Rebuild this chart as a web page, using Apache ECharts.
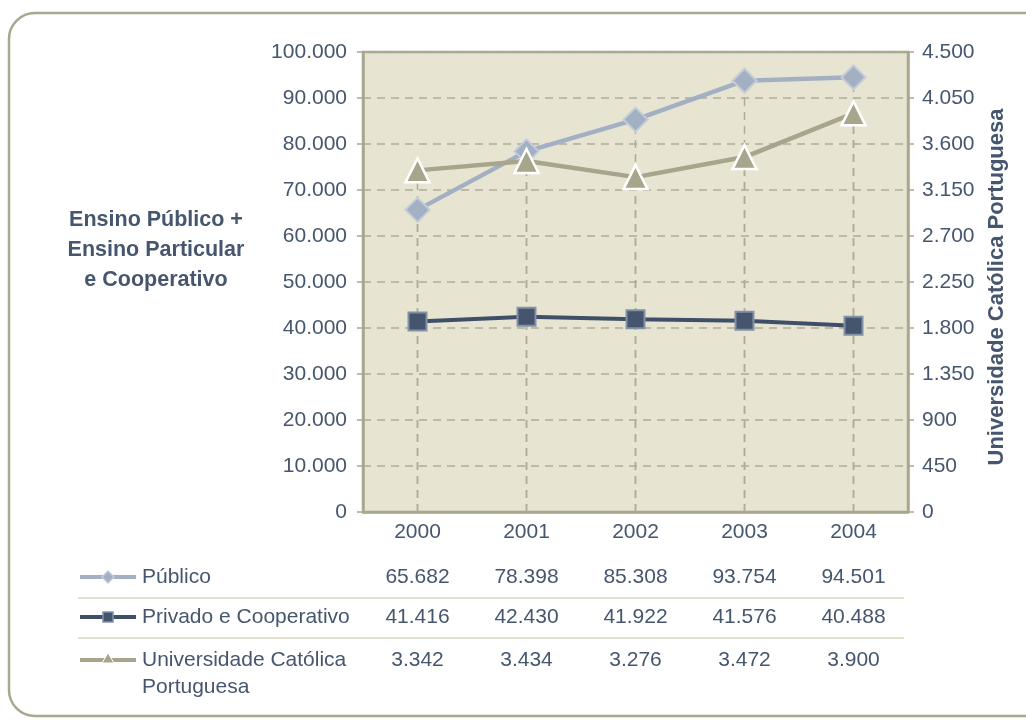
<!DOCTYPE html>
<html>
<head>
<meta charset="utf-8">
<script src="https://cdn.jsdelivr.net/npm/echarts@6/dist/echarts.min.js"></script>
<style>html,body{margin:0;padding:0;background:#fff}#c{width:1026px;height:720px}</style>
</head>
<body>
<div id="c"></div>
<script>
const categories = ['2000', '2001', '2002', '2003', '2004'];
const publico = [65682, 78398, 85308, 93754, 94501];
const privado = [41416, 42430, 41922, 41576, 40488];
const ucp = [3342, 3434, 3276, 3472, 3900];
const seriesNames = ['Público', 'Privado e Cooperativo', 'Universidade Católica Portuguesa'];
const leftAxisName = 'Ensino Público +\nEnsino Particular\ne Cooperativo';
const rightAxisName = 'Universidade Católica Portuguesa';
const legendLabels = ['Público', 'Privado e Cooperativo', 'Universidade Católica\nPortuguesa'];

const FONT = "'Liberation Sans', Arial, sans-serif";
const FS = 21;
const TXT = '#46566e';
const OLIVE = '#a9a78f';
const GRIDC = '#aeac96';
const C_PUB = '#a3b0c3';
const C_PRI = '#3f4f67';
const C_UCP = '#a7a58b';

function fmt(n) { return String(n).replace(/\B(?=(\d{3})+(?!\d))/g, '.'); }

const chart = echarts.init(document.getElementById('c'), null, { renderer: 'canvas' });

function dropRender(params, api) {
  const x = api.value(0), v = api.value(1);
  const top = api.coord([x, v]);
  const bot = api.coord([x, 0]);
  return {
    type: 'line',
    shape: { x1: bot[0], y1: bot[1], x2: top[0], y2: top[1] },
    style: { stroke: GRIDC, lineWidth: 1.5, lineDash: [8, 6] }
  };
}

function tableAxis(values, offset) {
  return {
    type: 'category', data: categories, position: 'bottom', offset: offset,
    gridIndex: 0, boundaryGap: true,
    axisLine: { show: false }, axisTick: { show: false }, splitLine: { show: false },
    axisLabel: { margin: 0, fontSize: FS, color: TXT, fontFamily: FONT, lineHeight: 20,
      formatter: (val, idx) => fmt(values[idx]) }
  };
}

const legendY = [577, 617, 660];
const legendGraphics = [];
legendGraphics.push({ type: 'rect', z: -10, shape: { x: 9, y: 13, width: 1100, height: 703, r: 26 },
  style: { fill: '#fff', stroke: OLIVE, lineWidth: 2.5 } });
[598, 638].forEach(y => legendGraphics.push({ type: 'line', shape: { x1: 78, y1: y, x2: 904, y2: y },
  style: { stroke: '#d9d7bd', lineWidth: 1.5 } }));
const lineCols = [C_PUB, C_PRI, C_UCP];
legendY.forEach((y, i) => {
  legendGraphics.push({ type: 'line', shape: { x1: 80, y1: y, x2: 136, y2: y }, style: { stroke: lineCols[i], lineWidth: 4 } });
});
legendGraphics.push({ type: 'polygon', shape: { points: [[108, 571], [114, 577], [108, 583], [102, 577]] },
  style: { fill: C_PUB, stroke: '#c3ccd9', lineWidth: 1.5 } });
legendGraphics.push({ type: 'rect', shape: { x: 103, y: 612, width: 10, height: 10 },
  style: { fill: '#45556d', stroke: '#8391a6', lineWidth: 1.5 } });
legendGraphics.push({ type: 'polygon', shape: { points: [[108, 653], [114, 663], [102, 663]] },
  style: { fill: C_UCP, stroke: '#ffffff', lineWidth: 1 } });
legendLabels.forEach((t, i) => {
  legendGraphics.push({ type: 'text', x: 142, y: legendY[i] - 13.5,
    style: { text: t, fill: TXT, font: FS + 'px ' + FONT, lineHeight: 27, textAlign: 'left', textVerticalAlign: 'top' } });
});
legendGraphics.push({ type: 'text', x: 156, y: 250,
  style: { text: leftAxisName, fill: TXT, font: 'bold 21.5px ' + FONT, lineHeight: 30, textAlign: 'center', textVerticalAlign: 'middle' } });
legendGraphics.push({ type: 'text', x: 997, y: 287, rotation: Math.PI / 2,
  style: { text: rightAxisName, fill: TXT, font: 'bold 22px ' + FONT, textAlign: 'center', textVerticalAlign: 'middle' } });

const option = {
  backgroundColor: 'transparent',
  animation: false,
  textStyle: { fontFamily: FONT },
  grid: { left: 363, right: 118, top: 52, bottom: 208, show: true, backgroundColor: '#e7e5d2',
    borderColor: OLIVE, borderWidth: 2.5 },
  xAxis: [
    { type: 'category', data: categories, boundaryGap: true,
      axisLine: { show: true, lineStyle: { color: OLIVE, width: 2.5 } }, axisTick: { show: false },
      splitLine: { show: false },
      axisLabel: { margin: 10, fontSize: FS, color: TXT, fontFamily: FONT } },
    tableAxis(publico, 55),
    tableAxis(privado, 95),
    tableAxis(ucp, 138)
  ],
  yAxis: [
    { type: 'value', min: 0, max: 100000, interval: 10000, position: 'left',
      axisLine: { show: true, lineStyle: { color: OLIVE, width: 2.5 } },
      axisTick: { show: true, length: 6, lineStyle: { color: OLIVE, width: 1.5 } },
      splitLine: { show: true, lineStyle: { color: GRIDC, width: 1.5, type: [8, 6] } },
      axisLabel: { margin: 16, fontSize: FS, color: TXT, fontFamily: FONT, formatter: v => fmt(v) } },
    { type: 'value', min: 0, max: 4500, interval: 450, position: 'right',
      axisLine: { show: true, lineStyle: { color: OLIVE, width: 2.5 } },
      axisTick: { show: true, length: 6, lineStyle: { color: OLIVE, width: 1.5 } },
      splitLine: { show: false },
      axisLabel: { margin: 14, fontSize: FS, color: TXT, fontFamily: FONT, formatter: v => fmt(v) } }
  ],
  series: [
    { type: 'custom', xAxisIndex: 0, yAxisIndex: 0, z: 1, silent: true, renderItem: dropRender,
      data: categories.map((c, i) => [i, Math.max(publico[i], privado[i])]) },
    { type: 'custom', xAxisIndex: 0, yAxisIndex: 1, z: 1, silent: true, renderItem: dropRender,
      data: ucp.map((v, i) => [i, v]) },
    { name: seriesNames[0], type: 'line', yAxisIndex: 0, data: publico, symbol: 'diamond', symbolSize: 24,
      lineStyle: { color: C_PUB, width: 4.5 },
      itemStyle: { color: C_PUB, borderColor: '#c3ccd9', borderWidth: 2 } },
    { name: seriesNames[1], type: 'line', yAxisIndex: 0, data: privado, symbol: 'rect', symbolSize: 18,
      lineStyle: { color: C_PRI, width: 4 },
      itemStyle: { color: '#45556d', borderColor: '#8391a6', borderWidth: 2 } },
    { name: seriesNames[2], type: 'line', yAxisIndex: 1, data: ucp, symbol: 'triangle', symbolSize: 24,
      lineStyle: { color: C_UCP, width: 4.5 },
      itemStyle: { color: C_UCP, borderColor: '#ffffff', borderWidth: 2.5 } }
  ],
  graphic: legendGraphics
};
chart.setOption(option);
</script>
</body>
</html>
